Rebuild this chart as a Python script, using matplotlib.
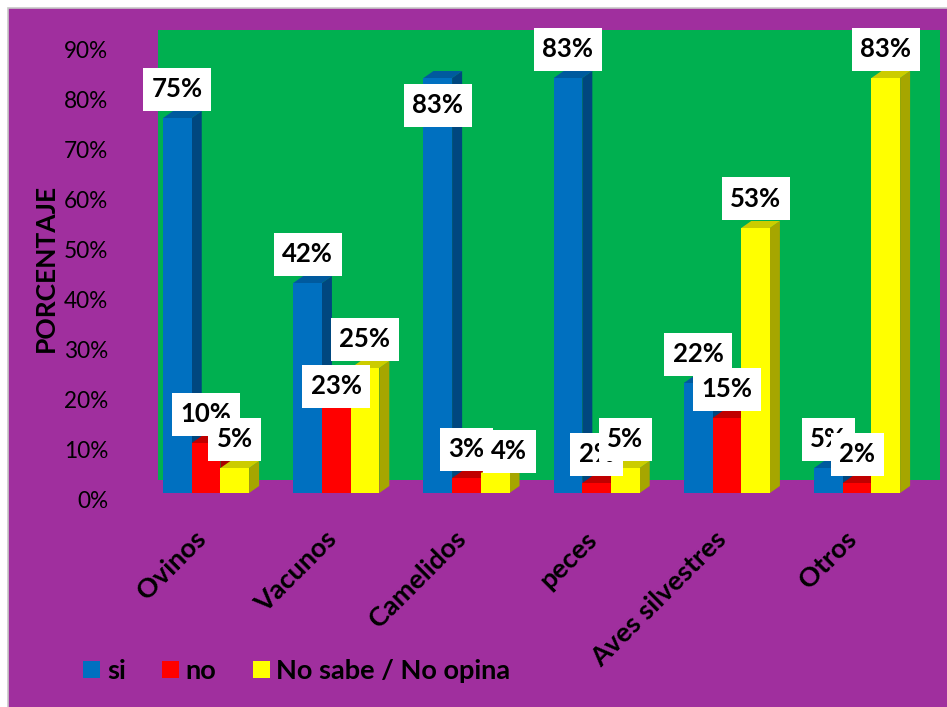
import matplotlib
matplotlib.use("Agg")
import matplotlib.pyplot as plt
from matplotlib.patches import Rectangle, Polygon, Patch
from matplotlib.path import Path
from matplotlib.transforms import ScaledTranslation

# ---- data -------------------------------------------------------------
categories = ["Ovinos", "Vacunos", "Camelidos", "peces", "Aves silvestres", "Otros"]
series_names = ["si", "no", "No sabe / No opina"]
si = [75, 42, 83, 83, 22, 5]
no = [10, 23, 3, 2, 15, 2]
no_sabe = [5, 25, 4, 5, 53, 83]
y_ticks = [0, 10, 20, 30, 40, 50, 60, 70, 80, 90]
y_tick_labels = [f"{t}%" for t in y_ticks]
y_title = "PORCENTAJE"

# ---- style ------------------------------------------------------------
plt.rcParams["font.family"] = ["Lato", "DejaVu Sans"]
PURPLE = "#A02F9E"
GREEN = "#00B050"
FACE = {  # front, side, top
    "si": ("#0070C0", "#00477F", "#005A9E"),
    "no": ("#FF0000", "#A80000", "#C00000"),
    "No sabe / No opina": ("#FFFF00", "#A6A600", "#CCCC00"),
}
# data labels moved by hand (pixels right, pixels down)
label_shift = {("si", 2): (0, 56), ("no", 1): (0, 37),
               ("No sabe / No opina", 2): (14, 7)}

W, H, DPI = 947, 707, 100


def label_box(x0, y0, width, height, mutation_size):
    """White label box with separate horizontal / vertical padding (pixels)."""
    ph, pv = 8.5, 9.5
    x1, y1 = x0 - ph, y0 - pv
    x2, y2 = x0 + width + ph, y0 + height + pv
    return Path([(x1, y1), (x2, y1), (x2, y2), (x1, y2), (x1, y1)], closed=True)


fig = plt.figure(figsize=(W / DPI, H / DPI), dpi=DPI, facecolor="white")
fig.add_artist(Rectangle((7.5 / W, -0.01), 1.05, (H - 7.5) / H + 0.01,
                         transform=fig.transFigure, facecolor=PURPLE,
                         edgecolor="#C8C8C8", lw=1.2, zorder=-10))

# plot area: x in category units, y in percent
ax = fig.add_axes([141 / W, (H - 493) / H, (940 - 141) / W, (493 - 30) / H])
ax.set_xlim(-0.5, 5.637)
ax.set_ylim(0, 92.6)
ax.set_facecolor("none")
for s in ax.spines.values():
    s.set_visible(False)

# back wall
ax.add_patch(Rectangle((-0.369, 2.6), 5.637 + 0.369, 90.0, facecolor=GREEN,
                       edgecolor="none", zorder=0))

bar_w = 0.2204
depth_x, depth_y = 0.0768, 1.4
all_series = [si, no, no_sabe]

for j, (name, vals) in enumerate(zip(series_names, all_series)):
    front, side, top = FACE[name]
    xs = [i + (j - 1) * bar_w for i in range(len(categories))]
    ax.bar(xs, vals, width=bar_w, color=front, edgecolor="none",
           zorder=3 + 2 * j)
    for x, v in zip(xs, vals):
        r = x + bar_w / 2
        l = x - bar_w / 2
        ax.add_patch(Polygon([(r, 0), (r + depth_x, depth_y),
                              (r + depth_x, v + depth_y), (r, v)],
                             closed=True, facecolor=side, edgecolor="none",
                             zorder=2 + 2 * j))
        ax.add_patch(Polygon([(l, v), (l + depth_x, v + depth_y),
                              (r + depth_x, v + depth_y), (r, v)],
                             closed=True, facecolor=top, edgecolor="none",
                             zorder=2 + 2 * j))

# value labels
px = 72 / DPI
for j, (name, vals) in enumerate(zip(series_names, all_series)):
    for i, v in enumerate(vals):
        x = i + (j - 1) * bar_w
        sx, sy = label_shift.get((name, i), (0, 0))
        ax.annotate(f"{v}%", xy=(x, v), xytext=(sx * px, (29 - sy) * px),
                    textcoords="offset points", ha="center", va="center",
                    fontsize=18.5, fontweight="bold", color="black",
                    bbox=dict(boxstyle=label_box, fc="white", ec="none"),
                    annotation_clip=False, zorder=20 + j)

# y axis
ax.set_yticks(y_ticks)
ax.set_yticklabels(y_tick_labels, fontsize=16.3)
ax.tick_params(axis="y", length=0, pad=(141 - 108) * px)
shift = ScaledTranslation(0, -7 / DPI, fig.dpi_scale_trans)
for lab in ax.get_yticklabels():
    lab.set_transform(lab.get_transform() + shift)
ax.set_xticks([])

fig.text(46 / W, (H - 268) / H, y_title, rotation=90, ha="center", va="center",
         fontsize=19, fontweight="bold")

# category labels
for i, cat in enumerate(categories):
    ax.annotate(cat, xy=(i, 0), xytext=(-4 * px, -42 * px),
                textcoords="offset points",
                rotation=45, rotation_mode="anchor", ha="right", va="center",
                fontsize=19.5, fontweight="bold", annotation_clip=False)

# legend
handles = [Patch(facecolor=FACE[n][0], edgecolor="none", label=n)
           for n in series_names]
fs = 19.5
fpx = fs / px
fig.legend(handles=handles, loc="center left",
           bbox_to_anchor=(83 / W, (H - 671) / H), ncol=3, frameon=False,
           prop=dict(size=fs, weight="bold"), handlelength=17 / fpx,
           handleheight=17 / fpx, handletextpad=7 / fpx,
           columnspacing=36 / fpx, borderpad=0, borderaxespad=0)

fig.savefig("out.png", dpi=DPI, facecolor="white")
